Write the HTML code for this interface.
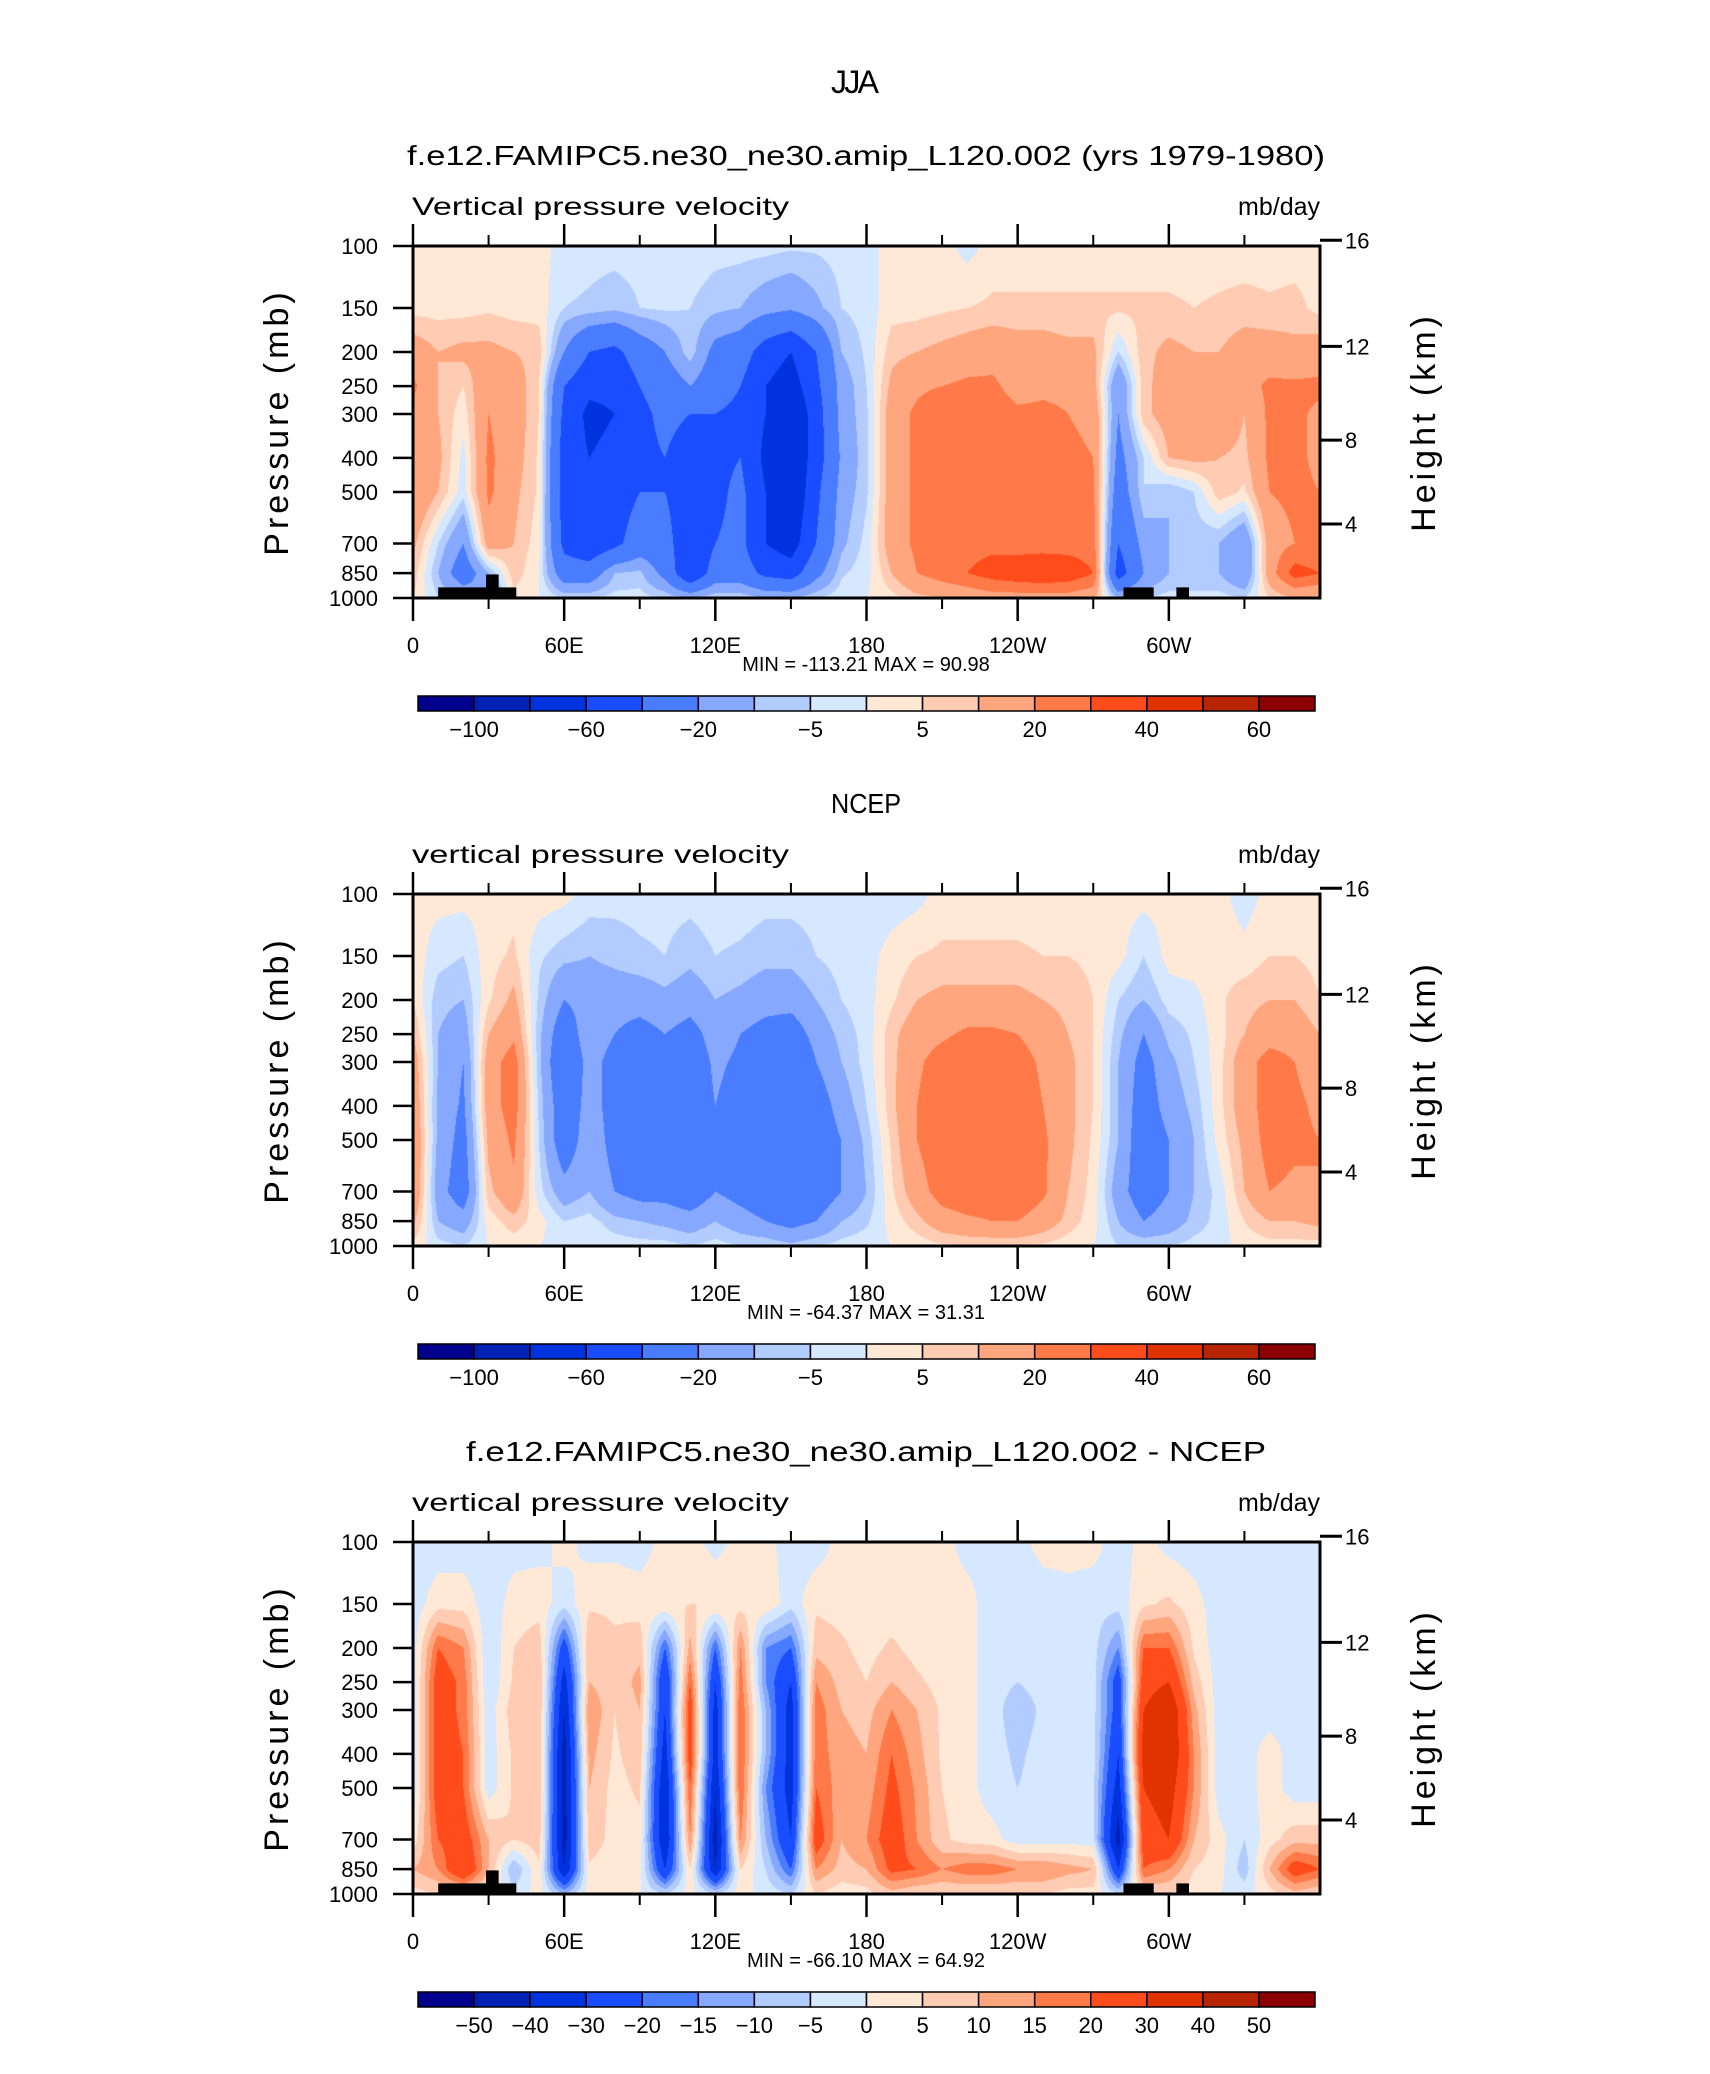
<!DOCTYPE html>
<html><head><meta charset="utf-8"><style>
html,body{margin:0;padding:0;background:#fff}
#root{position:relative;width:1710px;height:2074px;overflow:hidden;background:#fff}
canvas{position:absolute}
svg{position:absolute;left:0;top:0}
text{font-family:"Liberation Sans",sans-serif;fill:#000}
</style></head><body>
<div id="root">
<canvas id="c0" width="907" height="352" style="left:413px;top:246px"></canvas>
<canvas id="c1" width="907" height="352" style="left:413px;top:894px"></canvas>
<canvas id="c2" width="907" height="352" style="left:413px;top:1542px"></canvas>
<svg id="ov" width="1710" height="2074" xmlns="http://www.w3.org/2000/svg">
<text x="855" y="93" font-size="32" text-anchor="middle" textLength="48">JJA</text>
</svg>
</div>
<script>
const lons=[0,10,20,30,40,50,60,70,80,90,100,110,120,130,140,150,160,170,180,190,200,210,220,230,240,250,260,270,280,290,300,310,320,330,340,350,360];
const levels=[100,150,200,250,300,400,500,700,850,1000];
const modelOmega=[
[2,2,2,2,2,2,-2,-3,-3,-3,-3,-2,-3,-3,-3,-4,-4,-3,-2,2,2,2,-2,2,2,2,2,2,2,2,2,2,2,2,2,2,2],
[3,3,3,4,3,3,-5,-6,-8,-5,-4,-5,-8,-10,-15,-18,-12,-5,-3,3,3,4,5,6,6,6,6,6,6,6,6,5,6,7,6,7,3],
[15,10,12,12,10,8,-20,-40,-45,-30,-20,-6,-25,-30,-50,-60,-40,-10,-4,8,10,12,14,16,14,14,12,12,-5,8,12,10,10,14,14,12,15],
[22,10,5,18,15,5,-40,-55,-55,-40,-30,-20,-30,-40,-60,-70,-45,-15,-5,12,18,20,22,22,16,18,18,14,-20,8,14,12,12,16,22,22,22],
[18,10,2,20,15,5,-45,-65,-60,-45,-35,-40,-40,-45,-60,-80,-50,-15,-6,15,22,28,26,25,22,22,20,18,-20,8,14,16,18,10,22,22,18],
[18,12,-2,22,14,4,-50,-60,-55,-45,-40,-50,-45,-40,-65,-80,-50,-18,-6,15,22,28,26,25,24,22,22,20,-25,-5,10,12,10,8,22,22,18],
[20,10,-3,22,12,4,-50,-60,-50,-40,-40,-55,-45,-35,-60,-80,-45,-15,-6,15,22,26,26,25,24,24,24,22,-30,-5,-10,-5,8,4,20,22,20],
[12,-5,-20,15,10,2,-45,-55,-45,-30,-30,-60,-40,-35,-60,-70,-40,-12,-3,15,22,25,26,27,25,25,25,25,-40,-15,-10,-8,-10,-20,15,20,20],
[8,-10,-30,-10,8,0,-30,-30,-10,-8,-25,-60,-30,-30,-45,-50,-25,-6,-2,10,20,25,30,35,38,40,38,30,-50,-20,-10,-10,-10,-20,15,35,30],
[5,-5,-10,-20,3,0,-5,-5,-3,-3,-5,-10,-5,-5,-10,-10,-5,-2,0,3,8,10,12,15,15,15,15,12,-10,-5,-3,-3,-3,-5,5,10,8]];
const ncepOmega=[
[2,2,2,2,3,3,2,-2,-3,-3,-3,-3,-2,-2,-3,-3,-3,-3,-3,-3,-2,2,2,2,2,2,2,2,2,2,2,2,2,-3,2,2,2],
[3,-3,-5,3,6,-4,-8,-10,-8,-6,-5,-8,-5,-6,-8,-8,-5,-3,-2,2,5,6,6,6,6,5,5,4,2,-5,2,3,3,2,5,5,3],
[5,-8,-10,4,12,-6,-20,-15,-15,-15,-12,-15,-10,-12,-15,-15,-10,-5,-2,4,10,12,12,12,12,10,8,5,-5,-10,-3,-2,4,8,10,10,5],
[10,-10,-15,10,18,-8,-30,-12,-20,-25,-20,-25,-15,-20,-25,-28,-15,-8,-3,8,15,18,22,22,20,15,10,5,-8,-20,-8,-4,3,10,15,15,10],
[15,-10,-20,15,25,-8,-35,-15,-25,-30,-25,-28,-18,-22,-30,-40,-20,-10,-3,8,18,25,28,30,25,18,12,5,-10,-25,-12,-5,3,15,25,20,15],
[18,-12,-22,15,25,-6,-30,-15,-25,-30,-28,-28,-20,-25,-30,-40,-28,-15,-5,8,20,28,30,30,28,20,12,5,-10,-28,-15,-8,3,15,25,22,18],
[20,-12,-25,12,22,-5,-30,-12,-25,-30,-28,-30,-22,-25,-30,-38,-30,-20,-8,6,20,28,30,28,28,22,12,4,-10,-30,-20,-10,2,12,25,22,20],
[20,-15,-28,8,18,-3,-15,-10,-20,-25,-25,-30,-20,-25,-30,-35,-30,-20,-10,4,15,25,28,28,28,22,10,3,-15,-28,-20,-10,-3,10,20,18,20],
[12,-10,-15,2,8,2,-5,-3,-8,-10,-12,-15,-10,-15,-20,-25,-20,-10,-6,2,8,15,18,20,20,15,8,2,-10,-20,-15,-8,-3,5,10,10,12],
[3,-3,-5,0,2,0,-2,0,-2,-3,-3,-5,-3,-5,-5,-8,-5,-3,-2,0,2,4,5,5,5,4,2,0,-5,-5,-5,-3,-2,2,3,3,3]];
const diffOmega=[
[-3,-3,-3,-3,-2,-2,2,-2,-2,-3,2,2,-2,2,2,-3,-3,2,2,2,2,2,-2,-2,-2,2,2,2,-3,2,-2,-3,-3,-3,-3,-3,-3],
[-3,3,3,-3,2,3,-3,4,4,3,4,5,5,3,4,-3,4,3,2,2,2,2,2,-3,-3,-3,-2,-3,-3,4,6,2,-3,-3,-3,-3,-3],
[-3,20,15,-5,5,8,-25,10,6,8,-20,12,-20,15,-15,-20,8,6,3,6,3,3,2,-3,-3,-3,-2,-3,-15,20,20,4,-3,-3,-3,-3,-3],
[-3,25,18,-5,6,10,-35,10,6,12,-30,20,-30,18,-15,-30,15,8,5,10,6,3,2,-3,-5,-3,-2,-3,-25,25,30,8,-3,-3,-3,-3,-3],
[-3,25,18,-3,8,10,-40,15,5,10,-30,25,-35,20,-10,-35,18,10,8,15,10,4,2,-3,-8,-4,-2,-3,-25,30,40,12,-3,-3,-3,-3,-3],
[-3,25,20,-3,6,10,-45,12,4,8,-35,25,-35,20,-10,-35,18,12,10,20,12,4,2,-3,-6,-3,-2,-3,-30,35,40,15,-3,-3,3,-3,-3],
[-3,25,20,-3,6,10,-45,10,3,6,-40,20,-40,20,-15,-35,20,12,12,22,14,5,2,-3,-5,-3,-2,-4,-35,30,35,15,-3,-3,3,-3,-3],
[2,20,25,10,5,8,-45,8,3,3,-40,15,-45,15,-10,-30,25,10,15,25,15,6,3,2,-3,-3,-2,-3,-45,25,30,10,2,-5,3,8,8],
[10,15,30,10,-10,4,-40,4,2,2,-30,5,-40,5,-5,-20,15,8,10,22,20,15,18,18,15,15,12,10,-30,20,15,5,2,-8,10,25,20],
[3,5,5,3,-3,2,-10,2,0,0,-5,2,-5,2,-2,-5,5,2,3,8,5,5,5,5,5,5,3,3,-5,5,5,2,0,-2,3,8,5]];
const contourLevelsAbs=[-100,-80,-60,-40,-20,-10,-5,0,5,10,20,30,40,50,60];
const contourLevelsDiff=[-50,-40,-30,-20,-15,-10,-5,0,5,10,15,20,30,40,50];
const colorbarLabelsAbs=["-100","","-60","","-20","","-5","","5","","20","","40","","60"];
const colorbarLabelsDiff=["-50","-40","-30","-20","-15","-10","-5","0","5","10","15","20","30","40","50"];
const palette=["#00008c","#0022b4","#0033dd","#1a4dff","#4a7cff","#86a9ff","#b3ccff","#d6e8ff","#ffe8d6","#ffcbb3","#ffa67f","#ff7a48","#ff4c1a","#e03300","#b82400","#8c0000"];
const pressureTicks=[100,150,200,250,300,400,500,700,850,1000];
const heightTicks=[16,12,8,4];
const lonMajorTicks=[0,60,120,180,240,300];
const lonMajorLabels=["0","60E","120E","180","120W","60W"];
const lonMinorTicks=[30,90,150,210,270,330];
const topoBlocks=[[10,41,933],[29,34,857],[282,294,933],[303,308,933]];
const panelTitles=["f.e12.FAMIPC5.ne30_ne30.amip_L120.002 (yrs 1979-1980)","NCEP","f.e12.FAMIPC5.ne30_ne30.amip_L120.002 - NCEP"];
const panelSubtitles=["Vertical pressure velocity","vertical pressure velocity","vertical pressure velocity"];
const minVals=["-113.21","-64.37","-66.10"];
const maxVals=["90.98","31.31","64.92"];

const NS="http://www.w3.org/2000/svg";
const ov=document.getElementById("ov");
const L=413,W=907,H=352,TOPS=[246,894,1542];
function xOf(lon){return L+lon/360*W;}
function yOf(p,T){return T+(Math.log(p)-Math.log(100))/Math.log(10)*H;}
function pOfZ(z){return 1013.25*Math.pow(1-2.25577e-5*z*1000,5.25588);}
function mk(tag,attrs,parent){const e=document.createElementNS(NS,tag);for(const k in attrs)e.setAttribute(k,attrs[k]);(parent||ov).appendChild(e);return e;}

function drawField(canvasId,grid,lvls){
  const cv=document.getElementById(canvasId),ctx=cv.getContext("2d");
  const img=ctx.createImageData(W,H);
  const rgb=palette.map(c=>[parseInt(c.substr(1,2),16),parseInt(c.substr(3,2),16),parseInt(c.substr(5,2),16)]);
  const lp=levels.map(p=>Math.log(p));
  for(let j=0;j<H;j++){
    const lpp=Math.log(100)+(j+0.5)/H*Math.log(10);
    let r=0;while(r<levels.length-2&&lpp>lp[r+1])r++;
    const fy=Math.min(1,Math.max(0,(lpp-lp[r])/(lp[r+1]-lp[r])));
    for(let i=0;i<W;i++){
      const lon=(i+0.5)/W*360;
      let c=0;while(c<lons.length-2&&lon>lons[c+1])c++;
      const fx=(lon-lons[c])/(lons[c+1]-lons[c]);
      const v=(grid[r][c]*(1-fx)+grid[r][c+1]*fx)*(1-fy)+(grid[r+1][c]*(1-fx)+grid[r+1][c+1]*fx)*fy;
      let k=0;while(k<lvls.length&&v>=lvls[k])k++;
      const o=(j*W+i)*4;img.data[o]=rgb[k][0];img.data[o+1]=rgb[k][1];img.data[o+2]=rgb[k][2];img.data[o+3]=255;
    }
  }
  ctx.putImageData(img,0,0);
}
drawField("c0",modelOmega,contourLevelsAbs);
drawField("c1",ncepOmega,contourLevelsAbs);
drawField("c2",diffOmega,contourLevelsDiff);

for(let pi=0;pi<3;pi++){
  const T=TOPS[pi],off=T-246;
  let t=mk("text",{x:866,y:165+off,"font-size":28,"text-anchor":"middle",textLength:pi==1?70:(pi==0?918:800),lengthAdjust:"spacingAndGlyphs"});
  t.textContent=panelTitles[pi];
  
  
  t=mk("text",{x:412,y:215+off,"font-size":25,textLength:377,lengthAdjust:"spacingAndGlyphs"});
  t.textContent=panelSubtitles[pi];
  
  
  t=mk("text",{x:1320,y:215+off,"font-size":25,"text-anchor":"end"});
  t.textContent="mb/day";
  
  
  if(pi!=1){
    for(const b of topoBlocks){
      const r=mk("rect",{x:xOf(b[0]),y:yOf(b[2],T),width:xOf(b[1])-xOf(b[0]),height:T+H-yOf(b[2],T),fill:"#000"});
      
      
    }
  }
  const fr=mk("rect",{x:L,y:T,width:W,height:H,fill:"none",stroke:"#000","stroke-width":3});
  
  
  for(let k=0;k<lonMajorTicks.length;k++){
    const x=xOf(lonMajorTicks[k]);
    const tk=mk("path",{d:`M${x},${T-22}V${T}M${x},${T+H}V${T+H+23}`,stroke:"#000","stroke-width":2.5});
    
    
    const lb=mk("text",{x:x,y:T+H+55,"font-size":22,"text-anchor":"middle"});
    lb.textContent=lonMajorLabels[k];
    
    
  }
  for(const m of lonMinorTicks){
    const x=xOf(m);
    const tk=mk("path",{d:`M${x},${T-11}V${T}M${x},${T+H}V${T+H+11}`,stroke:"#000","stroke-width":2});
    
    
  }
  for(const p of pressureTicks){
    const y=yOf(p,T);
    const tk=mk("path",{d:`M${L-20},${y}H${L}`,stroke:"#000","stroke-width":2.5});
    
    
    const lb=mk("text",{x:378,y:y+8,"font-size":22,"text-anchor":"end"});
    lb.textContent=String(p);
    
    
  }
  for(const h of heightTicks){
    const y=yOf(pOfZ(h),T);
    const tk=mk("path",{d:`M${L+W},${y}H${L+W+22}`,stroke:"#000","stroke-width":3});
    
    
    const lb=mk("text",{x:1345,y:y+8,"font-size":22});
    lb.textContent=String(h);
    
    
  }
  const cy=T+H/2;
  t=mk("text",{x:0,y:0,"font-size":34,"text-anchor":"middle","letter-spacing":4,transform:`translate(288,${cy}) rotate(-90)`});
  t.textContent="Pressure (mb)";
  
  
  t=mk("text",{x:0,y:0,"font-size":34,"text-anchor":"middle","letter-spacing":4,transform:`translate(1435,${cy}) rotate(-90)`});
  t.textContent="Height (km)";
  
  
  t=mk("text",{x:866,y:T+H+73,"font-size":20,"text-anchor":"middle","xml:space":"preserve"});
  t.textContent="MIN = "+minVals[pi]+"   MAX =  "+maxVals[pi];
  
  
  const cbY=T+450,cbX=418,cbW=897/16;
  const labs=pi==2?colorbarLabelsDiff:colorbarLabelsAbs;
  for(let k=0;k<16;k++){
    const r=mk("rect",{x:cbX+k*cbW,y:cbY,width:cbW,height:15,fill:palette[k],stroke:"#000","stroke-width":1.5});
    
    
  }
  for(let k=0;k<15;k++){
    if(!labs[k])continue;
    const lb=mk("text",{x:cbX+(k+1)*cbW,y:cbY+41,"font-size":22,"text-anchor":"middle"});
    lb.textContent=labs[k].replace("-","\u2212");
    
    
  }
}
</script>
</body></html>
